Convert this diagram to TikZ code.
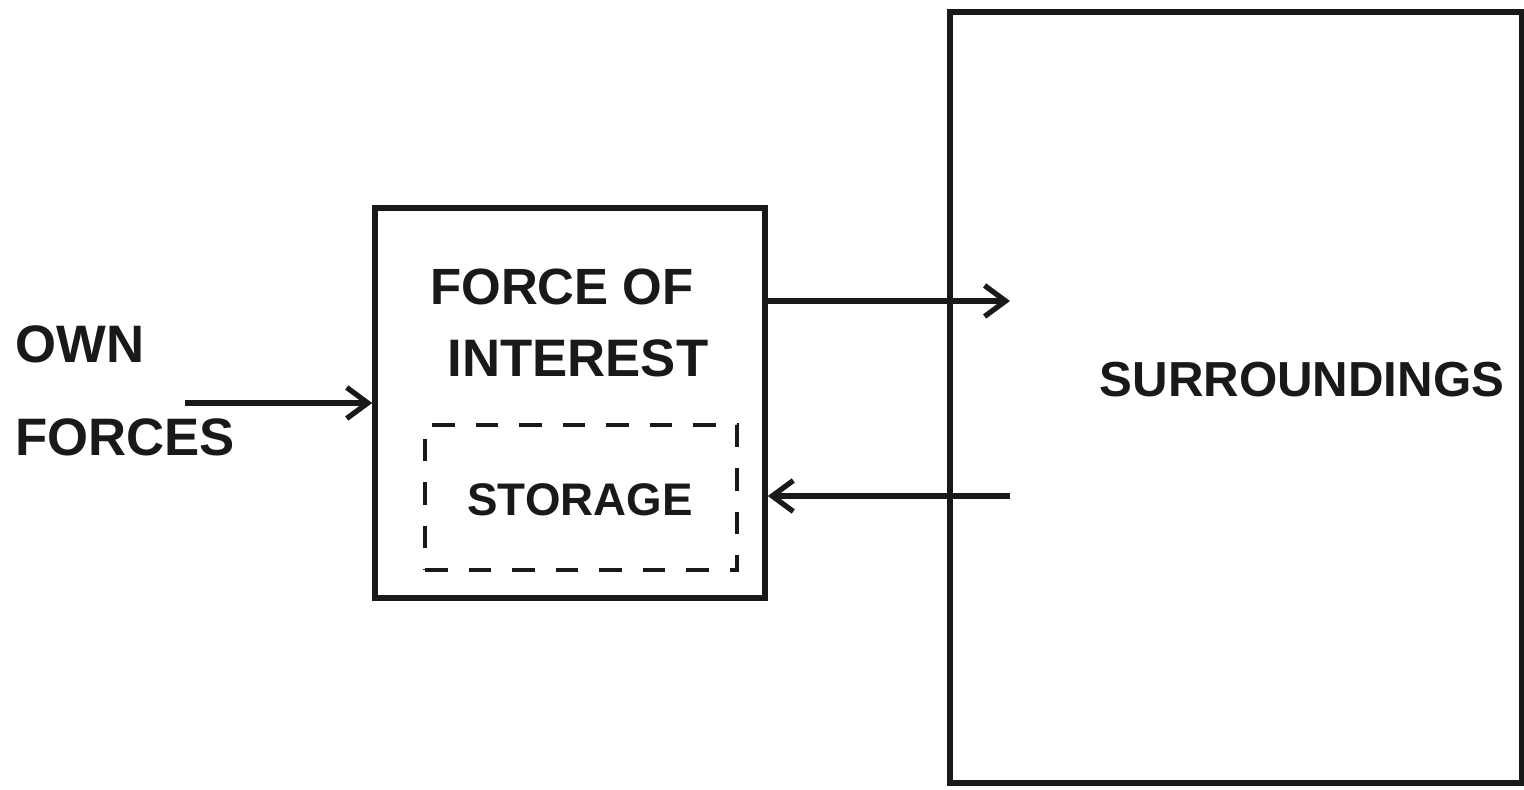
\documentclass[tikz,border=0pt]{standalone}
\usepackage{fontspec}
\setmainfont{Liberation Sans}
\usepackage{tikz}
\usetikzlibrary{positioning,arrows.meta}

\begin{document}
\begin{tikzpicture}[
    box/.style={rectangle,draw=black!90,line width=3.2pt,inner sep=0pt},
    storebox/.style={rectangle,draw=black!90,line width=2.8pt,dash pattern=on 0.45cm off 0.42cm,inner sep=0pt},
    label/.style={font=\fontsize{30}{36}\selectfont\bfseries,text=black!90,inner sep=0pt},
    arrow/.style={->,>={Straight Barb[length=0.42cm,width=0.62cm]},line width=3pt,black!90}
]
\useasboundingbox (0,0) rectangle (30.48,15.78);

\node[box,minimum width=7.8cm,minimum height=7.8cm] (force) at (11.4,7.72) {};
\node[storebox,minimum width=6.24cm,minimum height=2.9cm] (store) at (11.62,5.83) {};
\node[box,minimum width=11.44cm,minimum height=15.42cm] (surr) at (24.72,7.83) {};

\node[label,font=\fontsize{29}{34}\selectfont\bfseries] (forceof) at (11.24,10.04) {FORCE OF};
\node[label] (interest) at (11.56,8.62) {INTEREST};
\node[label,font=\fontsize{26}{31}\selectfont\bfseries] (storage) at (11.6,5.78) {STORAGE};
\node[label,font=\fontsize{28}{33}\selectfont\bfseries] (surrtext) at (26.04,8.18) {SURROUNDINGS};
\node[label,anchor=west] (own) at (0.3,8.9) {OWN};
\node[label,anchor=west] (forces) at (0.3,7.04) {FORCES};

\coordinate (ownstart) at (3.7,7.72);
\coordinate (outend) at (20.2,9.76);
\coordinate (instart) at (20.2,5.86);

\draw[arrow] (ownstart) -- (force.west);
\draw[arrow] (force.east |- outend) -- (outend);
\draw[arrow] (instart) -- (force.east |- instart);

\end{tikzpicture}
\end{document}
